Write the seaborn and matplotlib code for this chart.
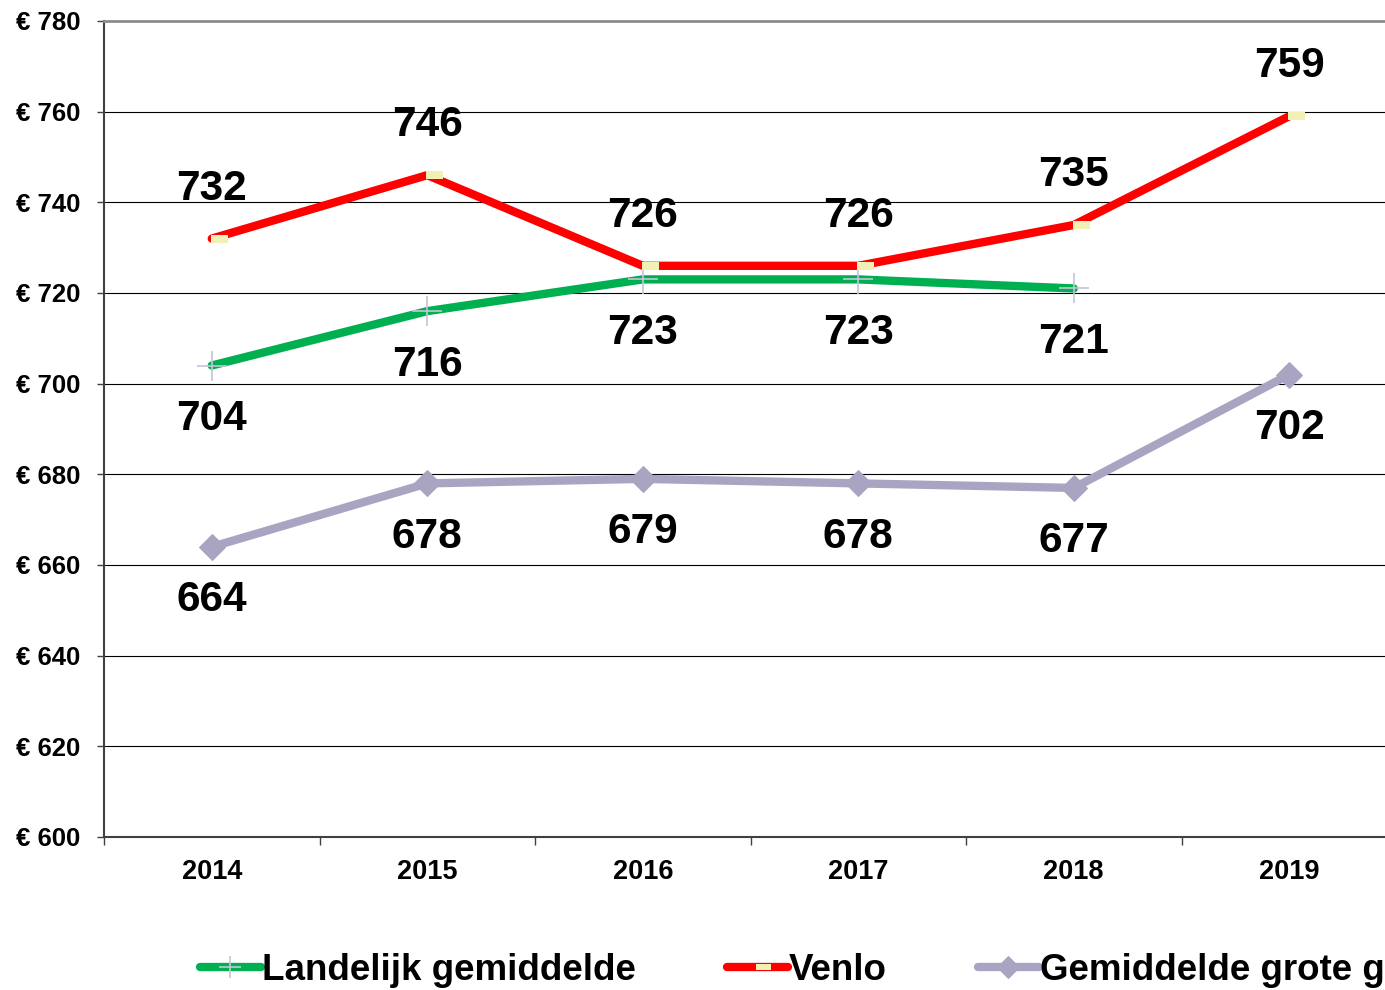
import matplotlib
matplotlib.use("Agg")
import matplotlib.pyplot as plt
from matplotlib.ticker import MultipleLocator, FixedLocator, FuncFormatter
import numpy as np
import pandas as pd
import seaborn as sns

# Data
years = [2014, 2015, 2016, 2017, 2018, 2019]
landelijk = [704, 716, 723, 723, 721, np.nan]
venlo = [732, 746, 726, 726, 735, 759]
grote_g = [664, 678, 679, 678, 677, 702]
series_names = ["Landelijk gemiddelde", "Venlo", "Gemiddelde grote gemeenten"]

df = pd.DataFrame({"Year": years, series_names[0]: landelijk,
                   series_names[1]: venlo, series_names[2]: grote_g})

sns.set_style("white")
plt.rcParams["font.family"] = ["Liberation Sans", "DejaVu Sans"]
plt.rcParams["font.weight"] = "bold"
plt.rcParams["text.color"] = "black"

fig = plt.figure(figsize=(13.85, 9.9), dpi=100)
ax = fig.add_axes([104/1385, 1-837/990, 1293/1385, 816/990])

# beige marker box, shifted right of the point like the original
box = [(-0.06, -0.25), (1, -0.25), (1, 0.25), (-0.06, 0.25), (-0.06, -0.25)]

green = "#00B050"
red = "#FF0000"
lav = "#A9A4C2"

sns.lineplot(data=df, x="Year", y=series_names[0], ax=ax, color=green, lw=6,
             marker="+", markersize=21, markeredgewidth=1.2, markeredgecolor="#C4C4DA",
             solid_capstyle="round", label=series_names[0])
sns.lineplot(data=df, x="Year", y=series_names[1], ax=ax, color=red, lw=6,
             marker=box, markersize=23, markerfacecolor="#F2F0B4", markeredgewidth=0,
             solid_capstyle="round", label=series_names[1])
sns.lineplot(data=df, x="Year", y=series_names[2], ax=ax, color=lav, lw=6,
             marker="D", markersize=13, markerfacecolor=lav, markeredgecolor=lav,
             solid_capstyle="round", label=series_names[2])

# data labels
for x1, y1 in zip(years, venlo):
    ax.annotate(str(y1), (x1, y1), xytext=(0, 36), textcoords="offset points",
                ha="center", va="center", fontsize=30.5, fontweight="bold", color="black")
for x1, y1 in zip(years, landelijk):
    if not np.isnan(y1):
        ax.annotate(str(int(y1)), (x1, y1), xytext=(0, -38.5), textcoords="offset points",
                    ha="center", va="center", fontsize=30.5, fontweight="bold", color="black")
for x1, y1 in zip(years, grote_g):
    ax.annotate(str(y1), (x1, y1), xytext=(0, -38.5), textcoords="offset points",
                ha="center", va="center", fontsize=30.5, fontweight="bold", color="black")

ax.set_xlim(2013.5, 2019.5)
ax.set_ylim(600, 780)
ax.yaxis.set_major_locator(MultipleLocator(20))
ax.yaxis.set_major_formatter(FuncFormatter(lambda v, p: "€ %d" % v))
ax.xaxis.set_major_locator(FixedLocator(years))
ax.xaxis.set_minor_locator(FixedLocator([y - 0.5 for y in years] + [2019.5]))
ax.grid(axis="y", color="black", lw=0.8)
ax.set_axisbelow(True)
ax.set_xlabel("")
ax.set_ylabel("")

ax.tick_params(axis="y", which="major", length=5, width=1, color="#404040", pad=12,
               labelsize=18.5, left=True, labelcolor="black")
ax.tick_params(axis="x", which="major", length=0, pad=16, labelsize=19.5, labelcolor="black")
ax.tick_params(axis="x", which="minor", length=6, width=1, color="#404040", bottom=True)
for lab in ax.get_xticklabels() + ax.get_yticklabels():
    lab.set_fontweight("bold")

for side in ["left", "bottom"]:
    ax.spines[side].set_color("#404040")
    ax.spines[side].set_linewidth(1.5)
ax.spines["top"].set_color("#8C8C8C")
ax.spines["top"].set_linewidth(2)
ax.spines["right"].set_visible(False)

ax.legend_.remove()
handles, labels = ax.get_legend_handles_labels()
leg = fig.legend(handles, labels, loc="center left", bbox_to_anchor=(200/1385, 1-970/990),
                 ncol=3, frameon=False, borderpad=0, borderaxespad=0, handlelength=1.65,
                 handletextpad=0.03, columnspacing=2.48, labelcolor="black",
                 prop={"weight": "bold", "size": 26.5})
# smaller markers in the legend keys
for h, ms in zip(leg.legend_handles, [16, 20, 11]):
    h.set_markersize(ms)

fig.savefig("out.png", dpi=100)
